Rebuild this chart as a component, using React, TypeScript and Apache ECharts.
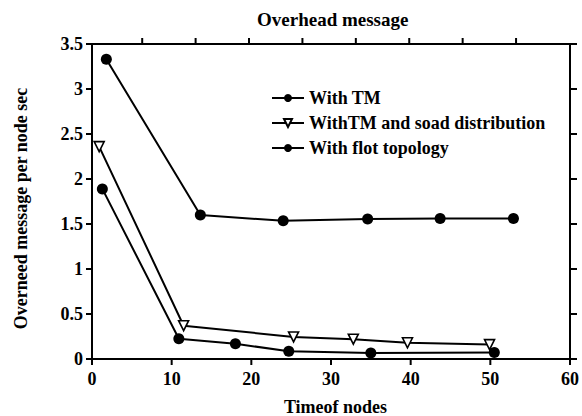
import React, { useEffect, useRef } from "react";
import * as echarts from "echarts";

const seriesNames = ["With TM", "WithTM and soad distribution", "With flot topology"];

const tmX = [1.8, 13.6, 24.0, 34.6, 43.7, 52.9];
const tmY = [3.33, 1.6, 1.535, 1.555, 1.56, 1.56];

const soadX = [0.9, 11.5, 25.3, 32.8, 39.6, 49.9];
const soadY = [2.36, 0.37, 0.245, 0.22, 0.18, 0.16];

const flotX = [1.3, 10.9, 18.0, 24.7, 35.0, 50.5];
const flotY = [1.89, 0.225, 0.17, 0.085, 0.067, 0.073];

const xTicks = [0, 10, 20, 30, 40, 50, 60];
const yTicks = [0, 0.5, 1, 1.5, 2, 2.5, 3, 3.5];
const topTicks = [1, 2, 3, 4, 5, 6, 7, 8];

const FONT = "Liberation Serif";

export default function App() {
  const ref = useRef<HTMLDivElement>(null);
  useEffect(() => {
    if (!ref.current) return;
    const chart = echarts.init(ref.current, null, { renderer: "svg" });
    const pair = (xs: number[], ys: number[]) => xs.map((x, i) => [x, ys[i]]);
    const mkLine = () => ({ show: true, onZero: false, lineStyle: { color: "#000", width: 2 } });
    const txt = { fontFamily: FONT, fontSize: 18, fontWeight: "bold" as const, color: "#000" };
    const tickSeries = (
      data: number[][],
      dx: number,
      dy: number,
      xAxisIndex = 0,
      yAxisIndex = 0
    ) => ({
      type: "custom",
      xAxisIndex,
      yAxisIndex,
      silent: true,
      clip: false,
      z: 10,
      data,
      renderItem: (_p: any, api: any) => {
        const c = api.coord([api.value(0), api.value(1)]);
        return {
          type: "line",
          shape: { x1: c[0], y1: c[1], x2: c[0] + dx, y2: c[1] + dy },
          style: { stroke: "#000", lineWidth: 2 },
        };
      },
    });
    chart.setOption({
      animation: false,
      backgroundColor: "#fff",
      title: {
        text: "Overhead message",
        left: 252,
        top: 5,
        textStyle: { ...txt, fontSize: 19 },
      },
      legend: {
        orient: "vertical",
        left: 266,
        top: 84,
        itemWidth: 32,
        itemHeight: 10,
        itemGap: 7,
        data: seriesNames,
        textStyle: txt,
      },
      grid: {
        left: 92,
        right: 12,
        top: 44,
        bottom: 57,
        containLabel: false,
        outerBoundsMode: "none",
      },
      xAxis: [
        {
          type: "value",
          position: "bottom",
          min: 0,
          max: 60,
          interval: 10,
          name: "Timeof nodes",
          nameLocation: "middle",
          nameGap: 39,
          nameTextStyle: { ...txt, padding: [0, 0, 0, 9] },
          axisLine: mkLine(),
          axisTick: { show: false },
          splitLine: { show: false },
          axisLabel: { ...txt, margin: 11 },
        },
        {
          type: "value",
          position: "top",
          min: 0.06,
          max: 9.01,
          axisLine: mkLine(),
          axisTick: { show: false },
          axisLabel: { show: false },
          splitLine: { show: false },
        },
      ],
      yAxis: [
        {
          type: "value",
          position: "left",
          min: 0,
          max: 3.5,
          interval: 0.5,
          name: "Overneed message per node sec",
          nameLocation: "middle",
          nameGap: 62,
          nameTextStyle: { ...txt, padding: [0, 14, 0, 0] },
          axisLine: mkLine(),
          axisTick: { show: false },
          splitLine: { show: false },
          axisLabel: { ...txt, margin: 9 },
        },
        {
          type: "value",
          position: "right",
          min: 0,
          max: 3.5,
          interval: 0.5,
          axisLine: mkLine(),
          axisTick: { show: false },
          axisLabel: { show: false },
          splitLine: { show: false },
        },
      ],
      series: [
        {
          name: seriesNames[0],
          type: "line",
          data: pair(tmX, tmY),
          symbol: "circle",
          symbolSize: 11,
          lineStyle: { color: "#000", width: 2 },
          itemStyle: { color: "#000" },
        },
        {
          name: seriesNames[1],
          type: "line",
          data: pair(soadX, soadY),
          symbol: "triangle",
          symbolRotate: 180,
          symbolSize: 10,
          lineStyle: { color: "#000", width: 2 },
          itemStyle: { color: "#fff", borderColor: "#000", borderWidth: 1.6 },
        },
        {
          name: seriesNames[2],
          type: "line",
          data: pair(flotX, flotY),
          symbol: "circle",
          symbolSize: 11,
          lineStyle: { color: "#000", width: 2 },
          itemStyle: { color: "#000" },
        },
        tickSeries(xTicks.map((v) => [v, 0]), 0, 6),
        tickSeries(topTicks.map((v) => [v, 3.5]), 0, -6, 1, 0),
        tickSeries(yTicks.map((v) => [0, v]), -6, 0),
        tickSeries(yTicks.map((v) => [60, v]), 7, 0),
      ],
    });
    return () => chart.dispose();
  }, []);
  return (
    <div
      ref={ref}
      style={{ position: "absolute", left: 0, top: 0, width: 582, height: 416 }}
    />
  );
}
